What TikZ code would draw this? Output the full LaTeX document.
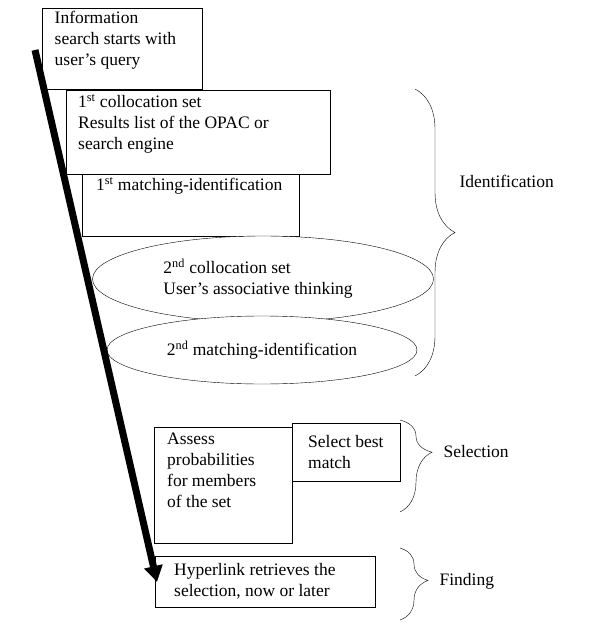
\documentclass[tikz,border=0pt]{standalone}
\usepackage{fontspec}
\setmainfont{Liberation Serif}
\usetikzlibrary{shapes.geometric,decorations.pathreplacing,arrows.meta}
\begin{document}
\begin{tikzpicture}[x=1pt,y=-1pt,
    box/.style={draw,fill=white,anchor=north west,align=left,inner sep=0pt,
        font=\fontsize{17.5}{21}\selectfont},
    oval/.style={draw,fill=white,ellipse,inner sep=0pt,align=left,
        font=\fontsize{17.5}{21}\selectfont},
    lbl/.style={anchor=west,font=\fontsize{17.5}{21}\selectfont},
    brc/.style={decorate,decoration={brace,amplitude=40pt,aspect=0.3}}]
\useasboundingbox (0,0) rectangle (600,623);
    \node[box,minimum width=160,minimum height=81] (query) at (42,8)
        {\parbox[c][78pt][t]{155pt}{\vspace{1pt}\hspace*{10pt}Information\\\hspace*{10pt}search starts with\\\hspace*{10pt}user's query}};
    \node[box,minimum width=264,minimum height=84] (coll1) at (66,90)
        {\parbox[c][80pt][t]{260pt}{\vspace{2pt}\hspace*{10pt}1\textsuperscript{st} collocation set\\\hspace*{10pt}Results list of the OPAC or\\\hspace*{10pt}search engine}};
    \node[box,minimum width=217,minimum height=62] (match1) at (82,174)
        {\parbox[c][58pt][t]{215pt}{\vspace{1pt}\hspace*{13pt}1\textsuperscript{st} matching-identification}};
    \node[oval,minimum width=341,minimum height=86] (coll2) at (263,279)
        {\hspace*{-10pt}2\textsuperscript{nd} collocation set\\\hspace*{-10pt}User's associative thinking};
    \node[oval,minimum width=310,minimum height=68] (match2) at (262,350)
        {2\textsuperscript{nd} matching-identification};
    \node[box,minimum width=138,minimum height=116] (assess) at (154,427)
        {\parbox[c][110pt][t]{136pt}{\vspace{3pt}\hspace*{12pt}Assess\\\hspace*{12pt}probabilities\\\hspace*{12pt}for members\\\hspace*{12pt}of the set}};
    \node[box,minimum width=108,minimum height=58] (best) at (292,423)
        {\parbox[c][52pt][c]{106pt}{\hspace*{15pt}Select best\\\hspace*{15pt}match}};
    \node[box,minimum width=220,minimum height=51] (link) at (155,556)
        {\parbox[c][48pt][c]{218pt}{\hspace*{18pt}Hyperlink retrieves the\\\hspace*{18pt}selection, now or later}};

    % braces and their labels
    \coordinate (i1) at (415,89);  \coordinate (i2) at (415,376);
    \coordinate (s1) at (400,420); \coordinate (s2) at (400,512);
    \coordinate (f1) at (400,548); \coordinate (f2) at (400,620);
    \draw[brc,decoration={aspect=0.5}] (i1) -- (i2);
    \draw[brc,decoration={amplitude=32pt,aspect=0.35}] (s1) -- (s2);
    \draw[brc,decoration={amplitude=28pt,aspect=0.45}] (f1) -- (f2);
    \node[lbl] (ident) at (456,181) {Identification};
    \node[lbl] (select) at (440,452) {Selection};
    \node[lbl] (find) at (436,581) {Finding};

    % process arrow
    \coordinate (start) at (35,50);
    \coordinate (stop) at (157,582);
    \draw[line width=7pt,-{Triangle[length=16pt,width=18pt]}] (start) -- (stop);
\end{tikzpicture}
\end{document}
